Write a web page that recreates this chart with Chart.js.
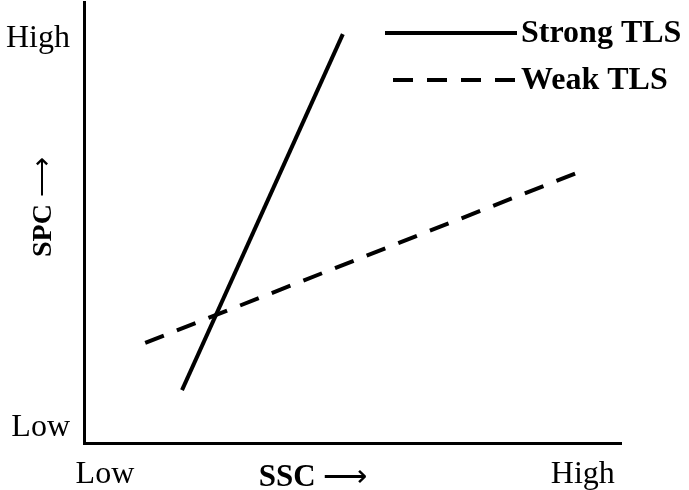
<!DOCTYPE html>
<html>
<head>
<meta charset="utf-8">
<script src="https://cdn.jsdelivr.net/npm/chart.js@4/dist/chart.umd.min.js"></script>
<style>
  html, body { margin: 0; padding: 0; background: #fff; }
  #wrap { width: 689px; height: 490px; }
</style>
</head>
<body>
<div id="wrap"><canvas id="chart"></canvas></div>
<script>
const levelLabels = ["Low", "High"];
const xLevelValues = [3.9, 92.9];
const yLevelValues = [3.4, 91.6];

const strongX = [18.25, 48.2];
const strongY = [12.0, 92.7];
const weakX = [11.4, 92.7];
const weakY = [22.7, 61.7];

const xTitle = "SSC";
const yTitle = "SPC";
const arrow = "\u27F6";

const serif = "'Liberation Serif', 'Times New Roman', serif";

const toPoints = (xs, ys) => xs.map((x, i) => ({ x: x, y: ys[i] }));

// bold word followed by a thin arrow, centred on (0,0)
function drawTitle(ctx, word, size) {
  ctx.textBaseline = "middle";
  ctx.textAlign = "left";
  ctx.font = "bold " + size + "px " + serif;
  const w1 = ctx.measureText(word + " ").width;
  ctx.font = size + "px " + serif;
  const w2 = ctx.measureText(arrow).width;
  const x0 = -(w1 + w2) / 2;
  ctx.font = "bold " + size + "px " + serif;
  ctx.fillText(word + " ", x0, 0);
  ctx.font = size + "px " + serif;
  ctx.fillText(arrow, x0 + w1, 0);
}

// legend + axis titles drawn by hand, the reference has them in odd places
const notesPlugin = {
  id: "notes",
  afterDraw(chart) {
    const ctx = chart.ctx;
    const area = chart.chartArea;
    ctx.save();
    ctx.fillStyle = "#000";
    ctx.translate(area.left + 229, 478);
    drawTitle(ctx, xTitle, 31);
    ctx.restore();

    ctx.save();
    ctx.fillStyle = "#000";
    ctx.translate(44, 207);
    ctx.rotate(-Math.PI / 2);
    drawTitle(ctx, yTitle, 28);
    ctx.restore();

    const rows = [
      { y: 33, x0: 385 },
      { y: 80, x0: 393 },
    ];
    chart.data.datasets.forEach((ds, i) => {
      const r = rows[i];
      ctx.save();
      ctx.strokeStyle = ds.borderColor;
      ctx.lineWidth = ds.borderWidth;
      ctx.lineCap = "butt";
      ctx.setLineDash(ds.borderDash || []);
      ctx.beginPath();
      ctx.moveTo(r.x0, r.y);
      ctx.lineTo(517, r.y);
      ctx.stroke();
      ctx.setLineDash([]);
      ctx.fillStyle = "#000";
      ctx.font = "bold 32px " + serif;
      ctx.textAlign = "left";
      ctx.textBaseline = "middle";
      ctx.fillText(ds.label, 521, r.y + 1);
      ctx.restore();
    });
  },
};

new Chart(document.getElementById("chart").getContext("2d"), {
  type: "scatter",
  data: {
    datasets: [
      {
        label: "Strong TLS",
        data: toPoints(strongX, strongY),
        showLine: true,
        borderColor: "#000",
        borderWidth: 4,
        borderCapStyle: "butt",
        pointRadius: 0,
      },
      {
        label: "Weak TLS",
        data: toPoints(weakX, weakY),
        showLine: true,
        borderColor: "#000",
        borderWidth: 4,
        borderDash: [20, 14],
        borderCapStyle: "butt",
        pointRadius: 0,
      },
    ],
  },
  options: {
    responsive: true,
    maintainAspectRatio: false,
    animation: false,
    layout: { padding: { top: 2, right: 68, left: 0, bottom: 0 } },
    scales: {
      x: {
        type: "linear",
        min: 0,
        max: 100,
        grid: { display: false, drawTicks: false },
        border: { color: "#000", width: 3 },
        afterFit: (scale) => {
          scale.height = 47;
          scale.paddingLeft = 0;
          scale.paddingRight = 0;
        },
        afterBuildTicks: (scale) => {
          scale.ticks = xLevelValues.map((v) => ({ value: v }));
        },
        ticks: {
          color: "#000",
          padding: 12,
          maxRotation: 0,
          font: { family: serif, size: 32 },
          callback: (v, i) => levelLabels[i],
        },
      },
      y: {
        type: "linear",
        min: 0,
        max: 100,
        grid: { display: false, drawTicks: false },
        border: { color: "#000", width: 3 },
        afterFit: (scale) => {
          scale.width = 84;
          scale.paddingTop = 0;
          scale.paddingBottom = 0;
        },
        afterBuildTicks: (scale) => {
          scale.ticks = yLevelValues.map((v) => ({ value: v }));
        },
        ticks: {
          color: "#000",
          padding: 14,
          font: { family: serif, size: 32 },
          callback: (v, i) => levelLabels[i],
        },
      },
    },
    plugins: {
      legend: { display: false },
      tooltip: { enabled: false },
    },
  },
  plugins: [notesPlugin],
});
</script>
</body>
</html>
